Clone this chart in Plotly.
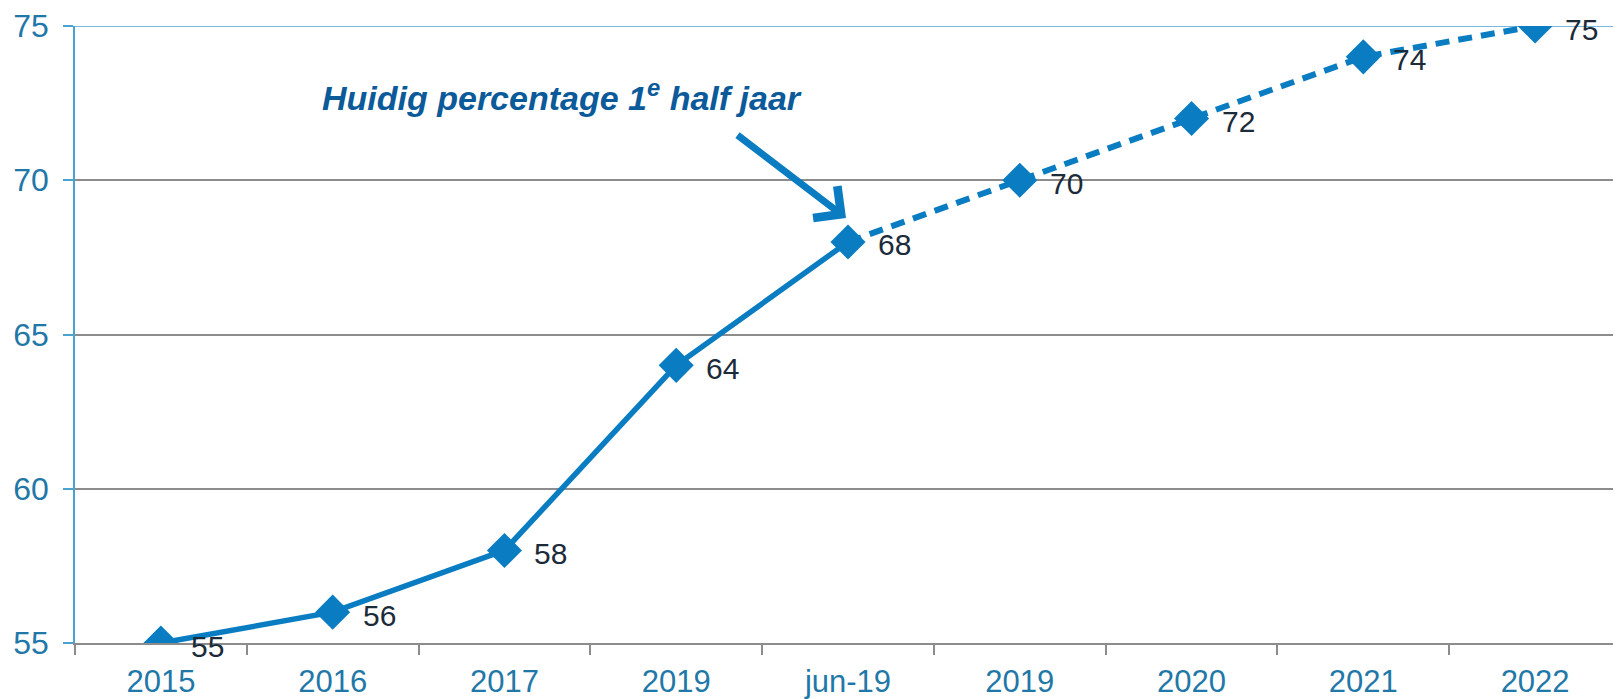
import plotly.graph_objects as go

categories = ["2015", "2016", "2017", "2019", "jun-19", "2019", "2020", "2021", "2022"]
values = [55, 56, 58, 64, 68, 70, 72, 74, 75]
split_index = 4  # jun-19: last actual value, the rest is forecast
y_ticks = [55, 60, 65, 70, 75]
annotation_text = "Huidig percentage 1<sup>e</sup> half jaar"

LINE = "#0A7DC2"
TICK = "#1F78A8"
LABEL = "#1C2B3A"
GRID = "#8C8C8C"
FONT = "Liberation Sans, Arial"

x = list(range(len(categories)))

fig = go.Figure()
fig.add_trace(go.Scatter(
    x=x[:split_index + 1], y=values[:split_index + 1], mode="lines",
    line=dict(color=LINE, width=5.5), hoverinfo="skip", showlegend=False))
fig.add_trace(go.Scatter(
    x=x[split_index:], y=values[split_index:], mode="lines",
    line=dict(color=LINE, width=6, dash="14px,9px"), hoverinfo="skip", showlegend=False))
fig.add_trace(go.Scatter(
    x=x, y=values, mode="markers",
    marker=dict(symbol="diamond", size=27, color=LINE, line=dict(width=0)),
    showlegend=False))

for xi, v in zip(x, values):
    fig.add_annotation(x=xi, y=v, text=str(v), showarrow=False,
                       xanchor="left", yanchor="middle", xshift=28, yshift=-3,
                       font=dict(family=FONT, size=30, color=LABEL))

fig.add_annotation(x=split_index, y=values[split_index], text="", showarrow=True,
                   arrowhead=4, arrowsize=1.1, arrowwidth=7, arrowcolor=LINE,
                   ax=-110, ay=-84, yshift=24, xshift=-2)
fig.add_annotation(xref="paper", yref="paper", x=0.315, y=0.887, text=annotation_text,
                   showarrow=False, xanchor="center", yanchor="middle",
                   font=dict(family=FONT, size=34, color="#0B5A9A",
                             weight="bold", style="italic"))

fig.add_shape(type="line", xref="paper", x0=0, x1=1, yref="y", y0=max(y_ticks), y1=max(y_ticks),
              line=dict(color="#4BA3D3", width=1.5), layer="below")

fig.update_xaxes(
    range=[-0.5, len(categories) - 0.5],
    tickvals=x, ticktext=categories, ticks="", ticklabelstandoff=10,
    tickfont=dict(family=FONT, size=31, color=TICK),
    showgrid=False, zeroline=False,
    showline=True, linecolor=GRID, linewidth=2,
    minor=dict(tickvals=[i - 0.5 for i in range(len(categories) + 1)],
               ticks="outside", ticklen=10, tickcolor=GRID, tickwidth=1.5),
)
fig.update_yaxes(
    range=[min(y_ticks), max(y_ticks)], tickvals=y_ticks,
    tickfont=dict(family=FONT, size=32, color=TICK), ticklabelstandoff=8,
    ticks="outside", ticklen=10, tickcolor="#4BA3D3", tickwidth=1.5,
    showgrid=True, gridcolor=GRID, gridwidth=1.5,
    showline=True, linecolor="#4BA3D3", linewidth=1.5, zeroline=False,
)
fig.update_layout(
    width=1613, height=691,
    margin=dict(l=67, r=0, t=18, b=53),
    plot_bgcolor="white", paper_bgcolor="white",
)
fig.write_html("out.html")
